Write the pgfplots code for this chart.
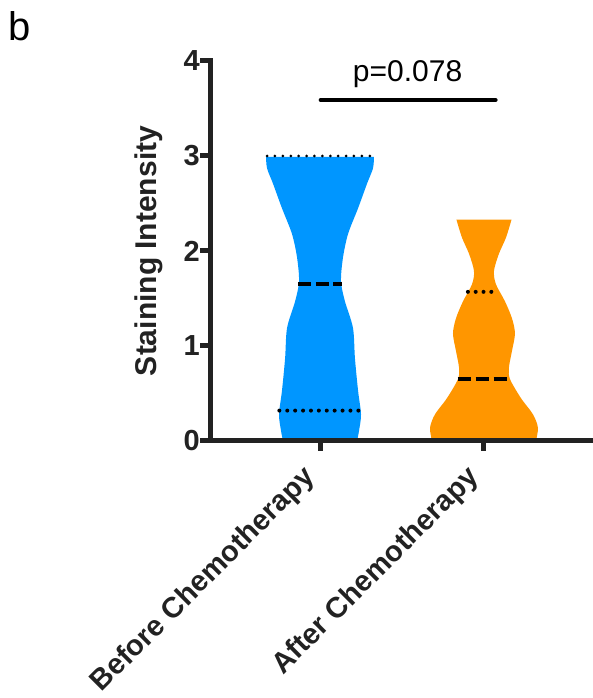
\documentclass[border=0pt]{standalone}
\usepackage{fontspec}
\setmainfont{Liberation Sans}
\usepackage{pgfplots}
\pgfplotsset{compat=1.18}
\usepgfplotslibrary{fillbetween}
\definecolor{vblue}{RGB}{0,150,255}
\definecolor{vorange}{RGB}{255,150,0}
\definecolor{axisgray}{RGB}{34,34,34}
\begin{document}
\begin{tikzpicture}
\begin{axis}[
  at={(210pt,257pt)}, anchor=south west,
  scale only axis, width=383pt, height=380pt,
  xmin=0.329, xmax=2.665, ymin=0, ymax=4,
  clip=false,
  axis on top,
  axis x line=bottom, axis y line=left,
  axis line style={-, line width=5pt, color=axisgray, line cap=rect},
  xtick={1,2}, xticklabels={Before Chemotherapy, After Chemotherapy},
  ytick={0,1,2,3,4},
  minor tick num=0,
  tick align=outside, major tick length=10pt,
  tick style={line width=5pt, color=axisgray, line cap=butt},
  /pgf/number format/assume math mode=true,
  tick label style={font=\fontsize{29}{34}\selectfont\bfseries, text=axisgray},
  xticklabel style={xshift=-9pt, yshift=-22pt, rotate=45, anchor=east, inner sep=0pt},
  yticklabel style={inner sep=0pt},
  ylabel={Staining Intensity},
  ylabel style={at={(axis description cs:-0.1384,0.5)}, anchor=base, inner sep=0pt,
    font=\fontsize{30}{36}\selectfont\bfseries, text=axisgray},
]
% Before chemotherapy violin
\addplot[draw=none, smooth, name path=BL] coordinates {
 (0.774,0) (0.762,0.11) (0.750,0.28) (0.768,0.53) (0.787,0.87) (0.799,1.19)
 (0.848,1.47) (0.872,1.68) (0.860,1.93) (0.829,2.18) (0.768,2.45) (0.713,2.71)
 (0.677,2.87) (0.671,2.99)};
\addplot[draw=none, smooth, name path=BR] coordinates {
 (1.226,0) (1.238,0.11) (1.250,0.28) (1.232,0.53) (1.213,0.87) (1.201,1.19)
 (1.152,1.47) (1.128,1.68) (1.140,1.93) (1.171,2.18) (1.232,2.45) (1.287,2.71)
 (1.323,2.87) (1.329,2.99)};
\addplot[fill=vblue, draw=none] fill between[of=BL and BR, reverse=true];
% After chemotherapy violin
\addplot[draw=none, smooth, name path=AL] coordinates {
 (1.683,0) (1.671,0.14) (1.701,0.28) (1.774,0.45) (1.841,0.65) (1.848,0.77)
 (1.829,0.95) (1.811,1.13) (1.829,1.29) (1.872,1.47) (1.927,1.65) (1.939,1.79)
 (1.909,1.97) (1.866,2.14) (1.832,2.33)};
\addplot[draw=none, smooth, name path=AR] coordinates {
 (2.317,0) (2.329,0.14) (2.299,0.28) (2.226,0.45) (2.159,0.65) (2.152,0.77)
 (2.171,0.95) (2.189,1.13) (2.171,1.29) (2.128,1.47) (2.073,1.65) (2.061,1.79)
 (2.091,1.97) (2.134,2.14) (2.168,2.33)};
\addplot[fill=vorange, draw=none] fill between[of=AL and AR, reverse=true];
% medians (dashed) and quartiles (dotted)
\addplot[black, line width=3.5pt, dash pattern=on 13pt off 4.5pt] coordinates {(0.868,1.65) (1.132,1.65)};
\addplot[black, line width=4pt, line cap=round, dash pattern=on 0pt off 7.9pt] coordinates {(0.752,0.32) (1.234,0.32)};
\addplot[black, line width=3pt, line cap=round, dash pattern=on 0pt off 7.9pt] coordinates {(0.677,3.0) (1.323,3.0)};
\addplot[black, line width=3.5pt, dash pattern=on 13.5pt off 4.5pt] coordinates {(1.840,0.65) (2.160,0.65)};
\addplot[black, line width=4pt, line cap=round, dash pattern=on 0pt off 7.8pt] coordinates {(1.902,1.57) (2.09,1.57)};
% significance bar
\addplot[black, line width=4pt, line cap=round] coordinates {(1.004,3.589) (2.071,3.589)};
\node[anchor=base, inner sep=0pt, font=\fontsize{30}{36}\selectfont] at (axis cs:1.534,3.779) {p=0.078};
\end{axis}
\node[anchor=base west, inner sep=0pt, font=\fontsize{40}{48}\selectfont] at (8.5pt,657pt) {b};
\pgfresetboundingbox
\useasboundingbox (0,0) rectangle (593pt,698pt);
\end{tikzpicture}
\end{document}
